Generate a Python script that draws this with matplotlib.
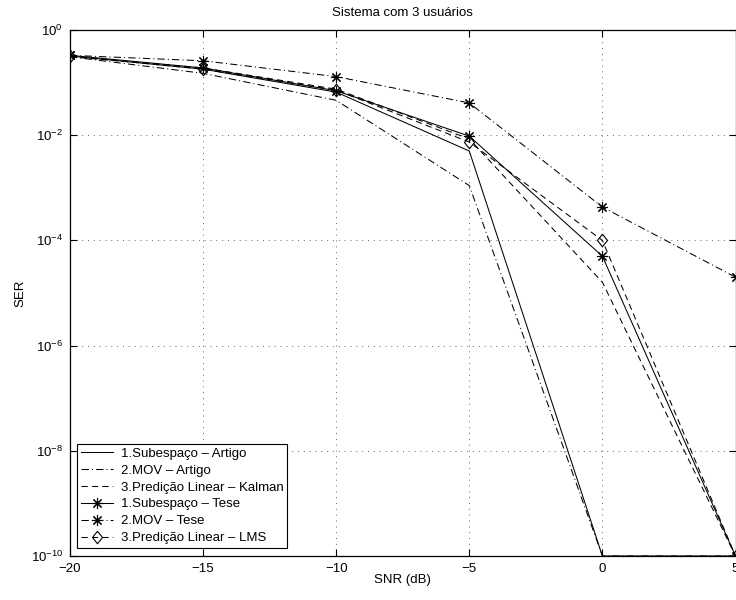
import matplotlib
matplotlib.use("Agg")
import matplotlib.pyplot as plt

plt.rcParams['font.family'] = ['Liberation Sans', 'DejaVu Sans']
plt.rcParams['mathtext.fontset'] = 'custom'
plt.rcParams['mathtext.rm'] = 'Liberation Sans'
plt.rcParams['mathtext.it'] = 'Liberation Sans'

# dados
snr = [-20, -15, -10, -5, 0, 5]
sub_artigo = [0.32, 0.18, 0.066, 0.005, 1e-10, 1e-10]
mov_artigo = [0.31, 0.15, 0.046, 1.1e-3, 1e-10, 1e-10]
kalman_artigo = [0.31, 0.19, 0.075, 0.0085, 1.6e-5, 1e-10]
sub_tese = [0.33, 0.19, 0.07, 0.0096, 5e-5, 1e-10]
mov_tese = [0.33, 0.26, 0.13, 0.041, 4.3e-4, 2e-5]
lms_tese = [0.32, 0.18, 0.072, 0.0074, 1e-4, 1e-10]

labels = ['1.Subespaço – Artigo', '2.MOV – Artigo', '3.Predição Linear – Kalman',
          '1.Subespaço – Tese', '2.MOV – Tese', '3.Predição Linear – LMS']
yticks = [1e0, 1e-2, 1e-4, 1e-6, 1e-8, 1e-10]
ytick_labels = ['$10^{0}$', '$10^{-2}$', '$10^{-4}$', '$10^{-6}$', '$10^{-8}$', '$10^{-10}$']
xticks = [-20, -15, -10, -5, 0, 5]
xtick_labels = ['\u221220', '\u221215', '\u221210', '\u22125', '0', '5']

asterisco = (8, 2, 0)
losango = [(0, 1), (0.8, 0), (0, -1), (-0.8, 0), (0, 1)]
dashdot = (0, (7, 3, 1, 3))
dashed = (0, (6, 4))

fig = plt.figure(figsize=(7.36, 6.0), dpi=100)
ax = fig.add_axes([70/736, 44/600, 665.5/736, 526/600])

lw = 0.75
ax.plot(snr, sub_artigo, color='k', lw=lw, ls='-', label=labels[0])
ax.plot(snr, mov_artigo, color='k', lw=lw, ls=dashdot, label=labels[1])
ax.plot(snr, kalman_artigo, color='k', lw=lw, ls=dashed, label=labels[2])
ax.plot(snr, sub_tese, color='k', lw=lw, ls='-', marker=asterisco, ms=8, mew=0.8,
        label=labels[3])
ax.plot(snr, mov_tese, color='k', lw=lw, ls=dashdot, marker=asterisco, ms=8, mew=0.8,
        label=labels[4])
ax.plot(snr, lms_tese, color='k', lw=lw, ls=dashed, marker=losango, ms=9, mew=0.8,
        mfc='none', label=labels[5])

ax.set_yscale('log')
ax.set_xlim(-20, 5)
ax.set_ylim(1e-10, 1e0)
ax.set_yticks(yticks)
ax.set_yticklabels(ytick_labels)
ax.yaxis.set_minor_locator(matplotlib.ticker.NullLocator())
ax.set_xticks(xticks)
ax.set_xticklabels(xtick_labels)
ax.tick_params(direction='in', top=True, right=True, length=5, width=0.8,
               labelsize=9.5, pad=5)
ax.grid(True, color='0.4', ls=(0, (1, 5)), lw=0.7)
for s in ax.spines.values():
    s.set_linewidth(0.9)

ax.set_title('Sistema com 3 usuários', fontsize=9.5, pad=10)
ax.set_xlabel('SNR (dB)', fontsize=9.5, labelpad=-1)
ax.set_ylabel('SER', fontsize=9.5, labelpad=3)

leg = ax.legend(loc='lower left', bbox_to_anchor=(0.0105, 0.015), borderaxespad=0,
                fancybox=False, edgecolor='k', framealpha=1, fontsize=9.5,
                handlelength=2.4, labelspacing=0.35, borderpad=0.3, handletextpad=0.6)
leg.get_frame().set_linewidth(0.8)

fig.savefig('out.png', dpi=100)
